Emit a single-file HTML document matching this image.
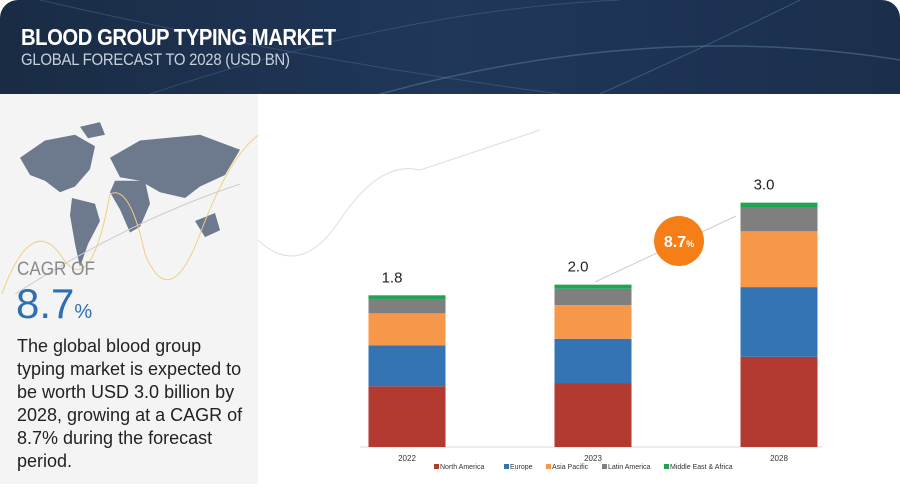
<!DOCTYPE html>
<html><head><meta charset="utf-8"><style>
body{margin:0;width:900px;height:490px;overflow:hidden;background:#fff;font-family:"Liberation Sans",sans-serif;position:relative}
#hdr{position:absolute;left:0;top:0;width:900px;height:94px;background:linear-gradient(90deg,#1a2c44,#20375a 50%,#1b2f4c);border-radius:18px 18px 0 0}
#panel{position:absolute;left:0;top:94px;width:258px;height:390px;background:#f4f4f4}
.t{position:absolute;white-space:nowrap}
</style></head><body>
<div id="hdr">
<svg width="900" height="94" style="position:absolute;left:0;top:0">
<path d="M40 0 Q300 60 560 94" stroke="#4a6a8c" stroke-width="1" fill="none" opacity=".5"/>
<path d="M150 94 Q400 10 620 0" stroke="#4a6a8c" stroke-width="1" fill="none" opacity=".5"/>
<path d="M380 94 Q650 20 900 60" stroke="#5a7fa0" stroke-width="1.5" fill="none" opacity=".5"/>
<path d="M600 94 Q720 40 800 0" stroke="#5a7fa0" stroke-width="1" fill="none" opacity=".5"/>
</svg>
<div class="t" style="left:21px;top:24px;color:#fff;font-weight:bold;font-size:23px;letter-spacing:-0.5px;transform:scaleX(0.88);transform-origin:left">BLOOD GROUP TYPING MARKET</div>
<div class="t" style="left:21px;top:50px;color:#c8d0da;font-size:17px;letter-spacing:-0.3px;transform:scaleX(0.88);transform-origin:left">GLOBAL FORECAST TO 2028 (USD BN)</div>
</div>
<div id="panel">
<svg width="258" height="200" style="position:absolute;left:0;top:0">
<g fill="#6d7a8d" transform="translate(0,12) scale(1,1.15)">
<path d="M20 45 L45 30 L75 25 L95 35 L90 55 L75 70 L60 75 L45 65 L30 60 Z"/>
<path d="M72 80 L95 85 L100 100 L88 120 L80 140 L75 120 L70 95 Z"/>
<path d="M110 45 L140 30 L200 25 L240 38 L225 60 L200 70 L185 80 L160 75 L140 65 L120 62 Z"/>
<path d="M115 65 L145 65 L150 85 L140 105 L130 110 L120 90 L110 75 Z"/>
<path d="M195 100 L215 93 L220 108 L205 114 Z"/>
<path d="M80 18 L100 14 L105 25 L88 28 Z"/>
</g>
<path d="M0 205 Q30 120 60 160 Q90 210 110 100 Q130 90 145 160 Q170 220 200 140 Q230 60 260 40" stroke="#f0d080" fill="none" stroke-width="1"/>
<path d="M0 210 Q120 130 240 90" stroke="#ccc" fill="none" stroke-width="1"/>
</svg>
</div>
<svg width="900" height="490" style="position:absolute;left:0;top:0">
<path d="M258 240 Q300 280 340 220 Q380 160 420 170 Q480 150 540 130" stroke="#ddd" fill="none"/>
</svg>
<div class="t" style="left:17px;top:259px;color:#8a8a8a;font-size:19px;transform:scaleX(0.9);transform-origin:left">CAGR OF</div>
<div class="t" style="left:16px;top:280px;color:#2d6fb3;font-size:42px">8.7<span style="font-size:20px">%</span></div>
<div class="t" style="left:17px;top:335px;color:#222;font-size:18px;line-height:23px">The global blood group<br>typing market is expected to<br>be worth USD 3.0 billion by<br>2028, growing at a CAGR of<br>8.7% during the forecast<br>period.</div>
<svg id="chart" width="900" height="490" style="position:absolute;left:0;top:0"></svg>
<script>
const years=["2022","2023","2028"];
const seriesNames=["North America","Europe","Asia Pacific","Latin America","Middle East & Africa"];
const northAmerica=[0.74,0.78,1.10];
const europe=[0.50,0.54,0.85];
const asiaPacific=[0.39,0.41,0.68];
const latinAmerica=[0.17,0.20,0.29];
const mea=[0.05,0.05,0.06];
const totals=["1.8","2.0","3.0"];
const cagrLabel="8.7";
const colors=["#b23a31","#3574b3","#f7974a","#7f7f7f","#1fa456"];
const series=[northAmerica,europe,asiaPacific,latinAmerica,mea];
const ns="http://www.w3.org/2000/svg";
const svg=document.getElementById('chart');
const y0=447,k=82,bw=77;
const xc=i=>407+i*186;
const yv=v=>y0-v*k;
function mk(t,a){const e=document.createElementNS(ns,t);for(const n in a)e.setAttribute(n,a[n]);svg.appendChild(e);return e;}
let ax=mk('line',{x1:360,x2:822,y1:y0,y2:y0,stroke:'#d9d9d9'});


years.forEach((yr,i)=>{
 let cum=0;
 series.forEach((s,j)=>{
  const r=mk('rect',{x:xc(i)-bw/2,y:yv(cum+s[i]),width:bw,height:s[i]*k,fill:colors[j]});
  
  
  cum+=s[i];
 });
 const tl=mk('text',{x:xc(i)-15,y:yv(cum)-13,'font-size':15,fill:'#222','text-anchor':'middle'});
 tl.textContent=totals[i];
 
 
 const xl=mk('text',{x:xc(i),y:461,'font-size':8,fill:'#333','text-anchor':'middle'});
 xl.textContent=yr;
 
 
});
const ar=mk('line',{x1:595,y1:282,x2:736,y2:216,stroke:'#ccc','stroke-width':1});


const c=mk('circle',{cx:679,cy:241,r:25,fill:'#f57e16'});


const ct=mk('text',{x:679,y:247,'font-size':16,fill:'#fff','text-anchor':'middle','font-weight':'bold'});
ct.innerHTML=cagrLabel+'<tspan font-size="9">%</tspan>';


let lx=434;
const lw=[70,42,56,62,80];
seriesNames.forEach((n,j)=>{
 const r=mk('rect',{x:lx,y:464,width:5,height:5,fill:colors[j]});
 
 
 const t=mk('text',{x:lx+6,y:469,'font-size':7,fill:'#333'});
 t.textContent=n;
 
 
 lx+=lw[j];
});
</script>
</body></html>
